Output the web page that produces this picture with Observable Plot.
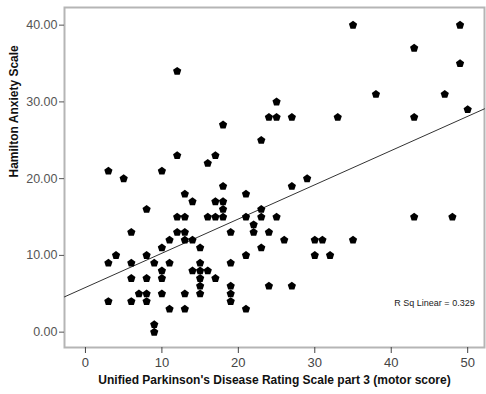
<!DOCTYPE html>
<html>
<head>
<meta charset="utf-8">
<script src="https://cdn.jsdelivr.net/npm/d3@7"></script>
<script src="https://cdn.jsdelivr.net/npm/@observablehq/plot@0.6"></script>
<style>
  html, body { margin: 0; padding: 0; background: #fff; }
  svg { font-family: "Liberation Sans", Arial, sans-serif; }
</style>
</head>
<body>
<div id="chart"></div>
<script>
// UPDRS part 3 motor score (x) and Hamilton Anxiety Scale (y)
const updrs = [3,5,10,12,12,25,24,25,27,18,23,17,16,29,35,49,43,49,38,47,50,33,43,
  13,14,8,12,13,12,13,6,11,13,14,15,10,4,8,3,6,9,11,15,10,14,15,6,8,10,15,7,8,10,13,15,15,
  3,6,8,11,13,9,9,18,17,18,18,21,27,16,17,18,21,23,23,25,22,22,24,19,26,23,21,30,31,30,32,
  19,16,17,19,19,19,24,27,21,35,43,48];
const hamilton = [21,20,21,34,23,30,28,28,28,27,25,23,22,20,40,40,37,35,31,31,29,28,28,
  18,17,16,15,15,13,13,13,12,12,12,11,11,10,10,9,9,9,9,9,8,8,8,7,7,7,7,5,5,5,5,6,5,
  4,4,4,3,3,1,0,19,17,17,16,18,19,15,15,15,15,16,15,15,14,13,13,13,12,11,10,12,12,10,10,
  9,8,7,6,5,4,6,6,3,12,15,15];

// Fit line endpoints as drawn in the reference
const fitX = [-2.74, 52.2];
const fitY = [4.6, 29.1];

const xTicks = [0, 10, 20, 30, 40, 50];
const yTicks = [0, 10, 20, 30, 40];
const xTitle = "Unified Parkinson's Disease Rating Scale part 3 (motor score)";
const yTitle = "Hamilton Anxiety Scale";
const rsqLabel = "R Sq Linear = 0.329";

const points = updrs.map((x, i) => ({x, y: hamilton[i]}));
const fit = fitX.map((x, i) => ({x, y: fitY[i]}));

// pentagon symbol (apex up)
const pentagon = {
  draw(context, size) {
    const r = Math.sqrt(size / Math.PI) * 1.08;
    for (let k = 0; k < 5; ++k) {
      const a = -Math.PI / 2 + k * 2 * Math.PI / 5;
      const px = r * Math.cos(a), py = r * Math.sin(a);
      if (k === 0) context.moveTo(px, py); else context.lineTo(px, py);
    }
    context.closePath();
  }
};

const chart = Plot.plot({
  width: 486,
  height: 394,
  marginLeft: 64,
  marginRight: 2,
  marginTop: 7,
  marginBottom: 47,
  style: {fontFamily: "Liberation Sans, Arial, sans-serif", fontSize: "12px", background: "#fff"},
  x: {domain: [-2.74, 52.2]},
  y: {domain: [-2.0, 42.3]},
  marks: [
    Plot.frame({stroke: "#b5b5b5", strokeWidth: 2}),
    Plot.axisX({ticks: xTicks, tickSize: 6, tickPadding: 4, label: null, color: "#444", fontSize: 13, line: true}),
    Plot.axisY({ticks: yTicks, tickSize: 5, tickPadding: 2, tickFormat: d3.format(".2f"), label: null, color: "#555", fontSize: 12.5, line: true}),
    Plot.line(fit, {x: "x", y: "y", stroke: "#333", strokeWidth: 1}),
    Plot.dot(points, {x: "x", y: "y", symbol: pentagon, r: 4, fill: "#000", stroke: "none"}),
    Plot.text([rsqLabel], {frameAnchor: "bottom-right", dx: -50, dy: -42, fontSize: 9, fill: "#222", textAnchor: "middle"}),
    Plot.text([xTitle], {frameAnchor: "bottom", dy: 36, fontWeight: "bold", fontSize: 12, fill: "#111"}),
    Plot.text([yTitle], {frameAnchor: "left", dx: -50, rotate: -90, fontWeight: "bold", fontSize: 12, fill: "#111"})
  ]
});
document.getElementById("chart").appendChild(chart);
</script>
</body>
</html>
